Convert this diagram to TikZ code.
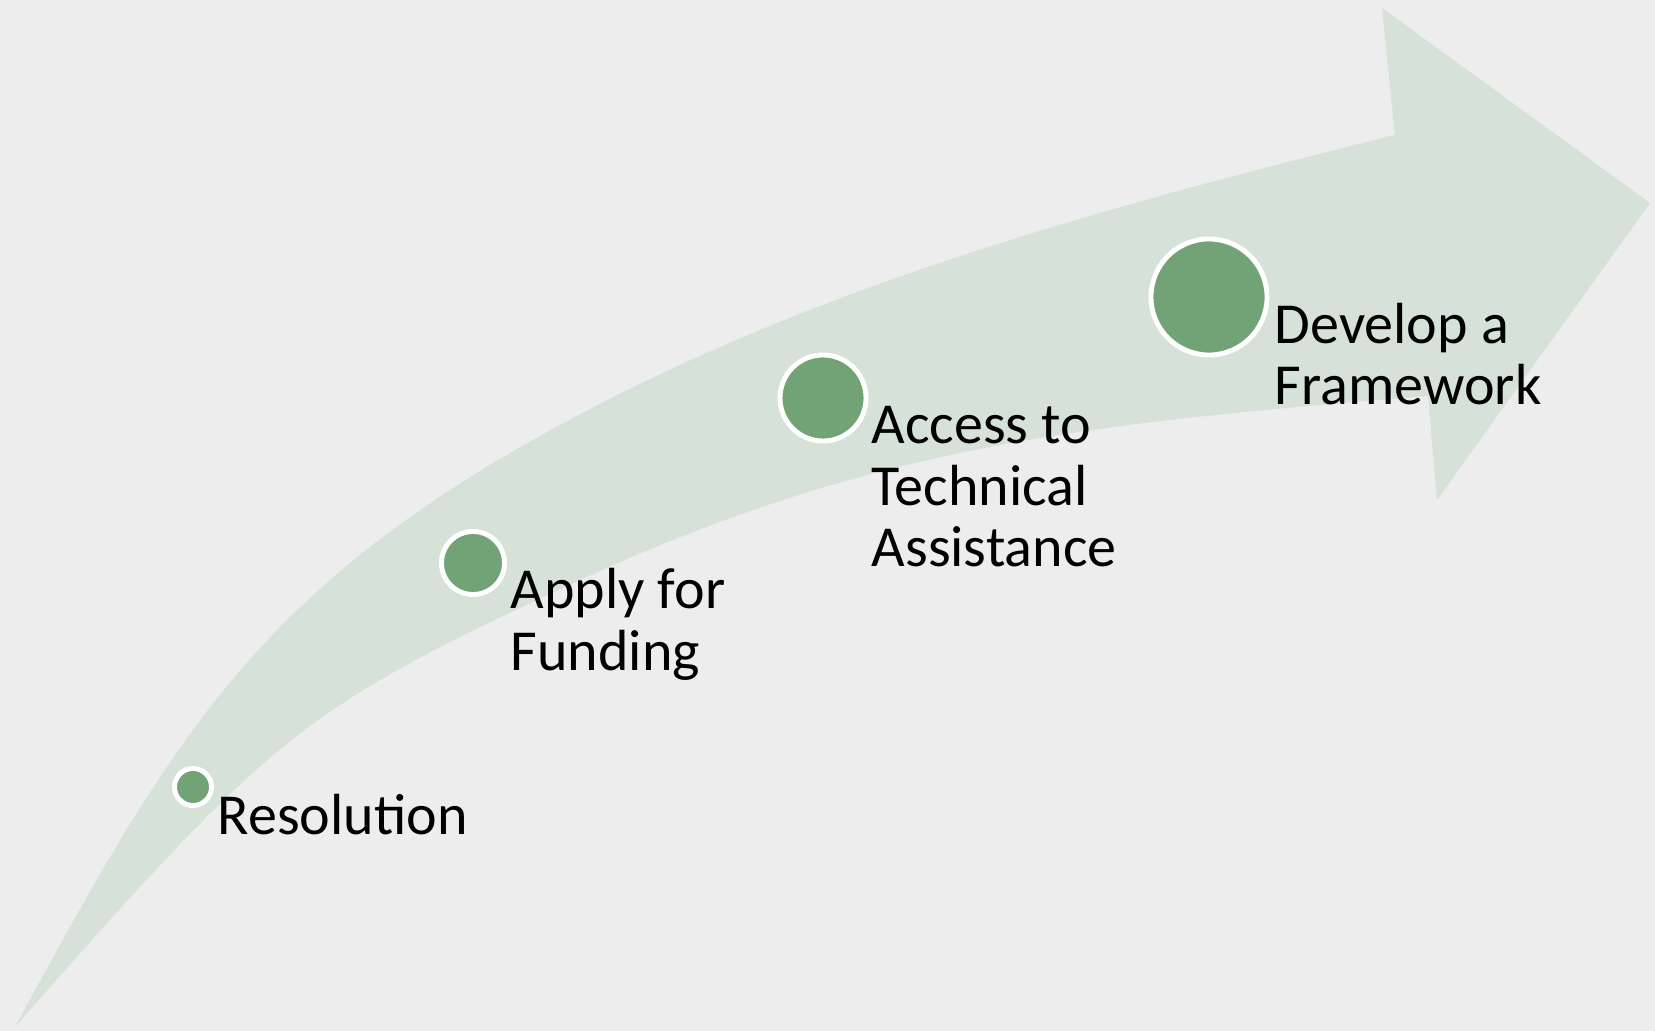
\documentclass[tikz,border=0pt]{standalone}
\usepackage{fontspec}
\setmainfont{Carlito}
\definecolor{paper}{RGB}{237,237,237}
\definecolor{arrowgreen}{RGB}{214,225,215}
\definecolor{dotgreen}{RGB}{113,163,119}
\tikzset{
	stepdot/.style={circle, fill=dotgreen, draw=white, line width=1.4pt, inner sep=0pt},
	steplabel/.style={anchor=base west, align=left, inner sep=0pt, font=\fontsize{16.5}{17.6}\selectfont}
}

\begin{document}
\begin{tikzpicture}[x=0.01cm, y=-0.01cm]
		% background and the bent arrow
		\fill [paper] (0,0) rectangle (1655,1031);
		\fill [arrowgreen] (15,1027) .. controls (159,763) and (242,612) .. (500,459)
			.. controls (775,296) and (1085,212) .. (1395,135)
			-- (1382,8) -- (1650,203) -- (1437,500) -- (1428,396)
			.. controls (1079,424) and (870,446) .. (571,584)
			.. controls (300,710) and (272,735) .. cycle;
		
		\foreach \name/\x/\y/\d in {res/193/787/0.37, fund/473/563/0.63, tech/823/398/0.86, frame/1209/297/1.16}
		{
			\node [stepdot, minimum size=\d cm] (\name) at (\x,\y) {};
		}
		
		\node [steplabel] (resText) at (217,834) {Resolution};
		\node [steplabel] (fundText) at (510,670) {Apply for\\Funding};
		\node [steplabel] (techText) at (871,567) {Access to\\Technical\\Assistance};
		\node [steplabel] (frameText) at (1274,405) {Develop a\\Framework};
		
	\end{tikzpicture}
\end{document}
